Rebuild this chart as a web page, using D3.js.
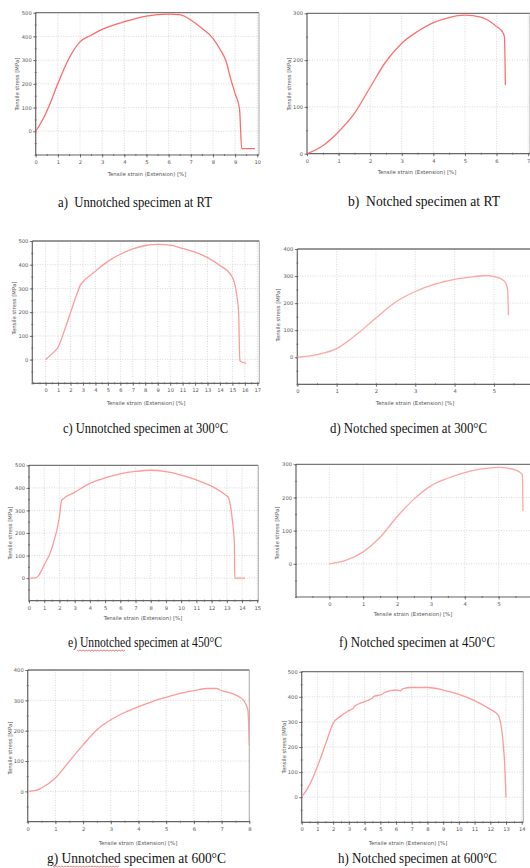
<!DOCTYPE html>
<html><head><meta charset="utf-8">
<script src="https://cdn.jsdelivr.net/npm/d3@7"></script>
<style>
html,body{margin:0;padding:0;background:#fff;}
svg{display:block;}
</style></head>
<body>
<svg id="fig" width="530" height="868"></svg>
<script>
// ---------- DATA ----------
const aStrain = [0,0.42,0.65,1,1.5,2,2.5,3,4,5,6,6.5,6.7,7,7.5,8,8.3,8.6,8.8,9,9.2,9.3,9.9];
const aStress = [0,68,117,201,307,377,405,430,462,486,494,492,486,469,434,392,349,293,222,159,96,-73,-73];
const bStrain = [0,0.5,1,1.5,2,2.5,3,3.5,4,4.5,5,5.5,6,6.2,6.25,6.28];
const bStress = [0,17,47,86,142,197,236,261,280,291,296,292,272,259,250,147];
const cStrain = [0,0.5,1,1.5,2,2.5,2.8,3,4,5,6,7,8,9,10,11,12,13,14,15,15.3,15.5,15.6,15.75,16.1];
const cStress = [0,24,52,121,198,275,315,328,372,414,444,467,481,486,483,469,453,430,397,347,288,198,-4,-10,-15];
const dStrain = [0,0.5,1,1.5,2,2.5,3,3.5,4,4.5,4.8,5,5.2,5.3,5.35,5.37];
const dStress = [0,10,32,83,145,204,243,270,288,298,302,298,288,274,249,155];
const eStrain = [0,0.4,0.6,1,1.5,2,2.15,3,4,5,6,7,8,9,10,11,12,13,13.1,13.3,13.45,13.5,13.52,14.2];
const eStress = [0,1,9,58,132,272,346,380,420,444,462,473,478,472,457,435,408,364,358,294,200,150,0,0];
const fStrain = [0,0.5,1,1.5,2,2.5,3,3.5,4,4.5,5,5.3,5.6,5.7,5.72];
const fStress = [0,11,36,80,142,195,235,258,275,286,291,288,278,268,159];
const gStrain = [0,0.3,0.5,1,1.5,2,2.5,3,3.5,4,4.5,5,5.5,6,6.5,6.8,7,7.5,7.8,7.95,8];
const gStress = [0,3,11,44,99,153,203,236,260,279,296,310,323,332,339,339,332,318,299,268,153];
const hStrain = [0,0.5,1,1.5,2,2.5,3,3.3,3.35,4,4.5,4.55,5,5.2,5.25,6,6.3,6.35,6.45,7,8,9,10,11,12,12.5,12.8,12.9,13];
const hStress = [0,49,122,208,294,324,345,356,362,381,395,400,408,413,417,427,424,428,433,437,437,427,410,385,350,327,228,148,0];

const aXTicks = d3.range(0,11), aYTicks = [0,100,200,300,400,500];
const bXTicks = d3.range(0,8),  bYTicks = [0,100,200,300];
const cXTicks = d3.range(0,18), cYTicks = [0,100,200,300,400,500];
const dXTicks = d3.range(0,6),  dYTicks = [0,100,200,300,400];
const eXTicks = d3.range(0,16), eYTicks = [0,100,200,300,400,500];
const fXTicks = d3.range(0,6),  fYTicks = [0,100,200,300];
const gXTicks = d3.range(0,9),  gYTicks = [0,100,200,300,400];
const hXTicks = d3.range(0,15), hYTicks = [0,100,200,300,400,500];

const captions = [
  "a)\u00a0 Unnotched specimen at RT",
  "b)\u00a0 Notched specimen at RT",
  "c) Unnotched specimen at 300\u00b0C",
  "d) Notched specimen at 300\u00b0C",
  "e) Unnotched specimen at 450\u00b0C",
  "f) Notched specimen at 450\u00b0C",
  "g) Unnotched specimen at 600\u00b0C",
  "h) Notched specimen at 600\u00b0C"
];
const xTitle = "Tensile strain (Extension) [%]";
const yTitle = "Tensile stress [MPa]";

// ---------- LAYOUT ----------
const panels = [
 {x:aStrain,y:aStress,xt:aXTicks,yt:aYTicks,L:35.7,R:259,T:12.7,B:155,xd:[0,10.08],yd:[-100,500],col:"#ff6b6b",
  xtx:147,xty:176,ytx:18,yty:84,cx:135,cy:207,cw:154},
 {x:bStrain,y:bStress,xt:bXTicks,yt:bYTicks,L:307,R:530,T:13.3,B:153.7,xd:[0,7.06],yd:[0,300],col:"#ff7070",
  xtx:417,xty:174,ytx:290,yty:84,cx:424,cy:206,cw:152},
 {x:cStrain,y:cStress,xt:cXTicks,yt:cYTicks,L:32.3,R:259.3,T:241,B:383.3,xd:[-1.07,17.16],yd:[-100,500],col:"#ff9a9a",
  xtx:146,xty:405,ytx:15,yty:308,cx:145.5,cy:433,cw:165},
 {x:dStrain,y:dStress,xt:dXTicks,yt:dYTicks,L:297.3,R:545,T:249,B:384.3,xd:[0,6.3],yd:[-100,400],col:"#ffa5a5",
  xtx:415,xty:405,ytx:279,yty:315,cx:408.5,cy:433,cw:157},
 {x:eStrain,y:eStress,xt:eXTicks,yt:eYTicks,L:29,R:258.3,T:465.3,B:600.7,xd:[0,15.07],yd:[-100,500],col:"#ff9a9a",
  xtx:143,xty:620,ytx:11,yty:533,cx:145,cy:647,cw:154},
 {x:fStrain,y:fStress,xt:fXTicks,yt:fYTicks,L:296,R:545,T:464.3,B:597,xd:[-0.985,6.37],yd:[-100,300],col:"#ffa5a5",
  xtx:413,xty:616,ytx:278,yty:533,cx:417,cy:647,cw:156},
 {x:gStrain,y:gStress,xt:gXTicks,yt:gYTicks,L:27.7,R:249.3,T:670,B:821.7,xd:[0,8],yd:[-100,400],col:"#ff9a9a",
  xtx:138,xty:845,ytx:11,yty:748,cx:136.5,cy:863,cw:179},
 {x:hStrain,y:hStress,xt:hXTicks,yt:hYTicks,L:301.7,R:523.3,T:671.7,B:822.3,xd:[0,14.1],yd:[-100,500],col:"#ff9a9a",
  xtx:408,xty:845,ytx:285,yty:747,cx:417.5,cy:863,cw:159}
];

const svg = d3.select("#fig");
const sans = "DejaVu Sans, Verdana, sans-serif";
const serif = "Liberation Serif, Times New Roman, serif";

panels.forEach((p,i)=>{
  const g = svg.append("g");
  const x = d3.scaleLinear().domain(p.xd).range([p.L,p.R]);
  const y = d3.scaleLinear().domain(p.yd).range([p.B,p.T]);
  const clipId = "clip"+i;
  svg.append("clipPath").attr("id",clipId).append("rect")
     .attr("x",p.L).attr("y",p.T).attr("width",p.R-p.L).attr("height",p.B-p.T);

  // grid
  const grid = g.append("g").attr("clip-path",`url(#${clipId})`);
  grid.selectAll("line.vx").data(p.xt).join("line")
     .attr("x1",d=>x(d)).attr("x2",d=>x(d)).attr("y1",p.T).attr("y2",p.B)
     .attr("stroke","#c8c8c8").attr("stroke-width",0.7).attr("stroke-dasharray","1,1.5");
  const yGrid = d3.range(p.yd[0],p.yd[1]+1,100);
  grid.selectAll("line.hy").data(yGrid).join("line")
     .attr("y1",d=>y(d)).attr("y2",d=>y(d)).attr("x1",p.L).attr("x2",p.R)
     .attr("stroke","#c8c8c8").attr("stroke-width",0.7).attr("stroke-dasharray","1,1.5");

  // frame
  g.append("line").attr("x1",p.L).attr("x2",p.R).attr("y1",p.T).attr("y2",p.T)
    .attr("stroke","#777").attr("stroke-width",1.3);
  g.append("line").attr("x1",p.R).attr("x2",p.R).attr("y1",p.T).attr("y2",p.B)
    .attr("stroke","#aaa").attr("stroke-width",1);

  // axes
  const xMinor = d3.range(Math.ceil(p.xd[0]*2)/2, p.xd[1]+0.001, 0.5);
  const yMinor = d3.range(p.yd[0], p.yd[1]+1, 50);
  const xAxisMinor = d3.axisBottom(x).tickValues(xMinor).tickSize(2).tickFormat("");
  const yAxisMinor = d3.axisLeft(y).tickValues(yMinor).tickSize(2).tickFormat("");
  const gxm = g.append("g").attr("transform",`translate(0,${p.B})`).call(xAxisMinor);
  const gym = g.append("g").attr("transform",`translate(${p.L},0)`).call(yAxisMinor);
  [gxm,gym].forEach(a=>{
    a.select(".domain").remove();
    a.selectAll(".tick line").attr("stroke","#555").attr("stroke-width",0.8)
      .attr("transform", a===gxm ? "translate(0,-1)" : "translate(1,0)");
  });
  const xAxis = d3.axisBottom(x).tickValues(p.xt).tickSize(2.5).tickPadding(3).tickFormat(d3.format("d"));
  const yAxis = d3.axisLeft(y).tickValues(p.yt).tickSize(2.5).tickPadding(1.5).tickFormat(d3.format("d"));
  const gx = g.append("g").attr("transform",`translate(0,${p.B})`).call(xAxis);
  const gy = g.append("g").attr("transform",`translate(${p.L},0)`).call(yAxis);
  [gx,gy].forEach(a=>{
    a.select(".domain").attr("stroke","#666").attr("stroke-width",1.2)
      .attr("d", a===gx ? `M${p.L},0H${p.R}` : `M0,${p.T}V${p.B}`);
    a.selectAll(".tick line").attr("stroke","#555").attr("stroke-width",0.8);
    a.selectAll(".tick text").attr("font-family",sans).attr("font-size",5.2).attr("fill","#555");
  });

  // curve
  const line = d3.line().x(d=>x(d[0])).y(d=>y(d[1])).curve(d3.curveMonotoneX);
  g.append("path").datum(p.x.map((v,k)=>[v,p.y[k]]))
    .attr("d",line).attr("fill","none").attr("stroke",p.col).attr("stroke-width",1.3)
    .attr("clip-path",`url(#${clipId})`);

  // titles
  g.append("text").attr("x",p.xtx).attr("y",p.xty).attr("text-anchor","middle")
    .attr("font-family",sans).attr("font-size",5.4).attr("fill","#555").text(xTitle);
  g.append("text").attr("transform",`translate(${p.ytx},${p.yty}) rotate(-90)`).attr("text-anchor","middle")
    .attr("dominant-baseline","middle")
    .attr("font-family",sans).attr("font-size",5.4).attr("fill","#555").text(yTitle);

  // caption
  g.append("text").attr("x",p.cx).attr("y",p.cy).attr("text-anchor","middle")
    .attr("font-family",serif).attr("font-size",14).attr("fill","#111")
    .attr("textLength",p.cw).attr("lengthAdjust","spacingAndGlyphs").text(captions[i]);
});

// spell-check wavy underlines under "Unnotched" in e) and g)
function wavy(x0,x1,yy){
  const pts=[]; let k=0;
  for(let xx=x0; xx<=x1; xx+=1.5){ pts.push([xx, yy + (k%2? 1:-0)]); k++; }
  svg.append("path").attr("d",d3.line()(pts)).attr("fill","none").attr("stroke","#e02020").attr("stroke-width",0.6);
}
wavy(77,125,650);
wavy(53,120,866);
</script>
</body></html>
